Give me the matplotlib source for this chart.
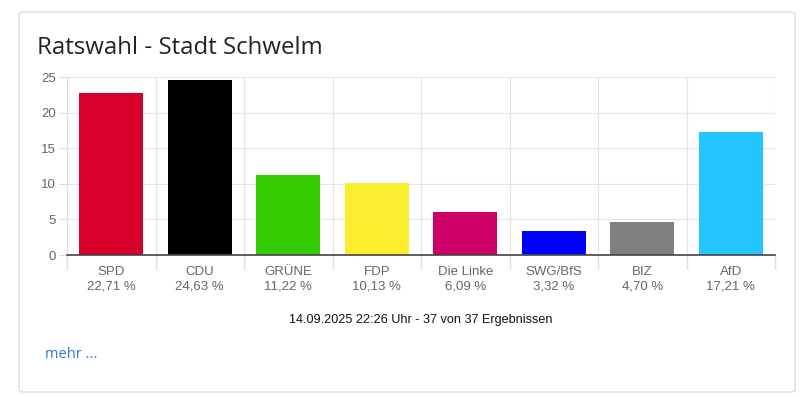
import matplotlib.pyplot as plt
from matplotlib.patches import FancyBboxPatch

parties = ["SPD", "CDU", "GRÜNE", "FDP", "Die Linke", "SWG/BfS", "BIZ", "AfD"]
shares = [22.71, 24.63, 11.22, 10.13, 6.09, 3.32, 4.70, 17.21]
colors = ["#d7002a", "#000000", "#33cc00", "#fcec2e", "#cc0066", "#0000ff", "#7f7f7f", "#22c5ff"]
yticks = [0, 5, 10, 15, 20, 25]

W, H = 800, 397
plt.rcParams["font.family"] = ["Liberation Sans", "DejaVu Sans"]
fig = plt.figure(figsize=(8, 3.97), dpi=100)
fig.patch.set_facecolor("white")

# card frame, behind the axes
card = FancyBboxPatch((19 / W, 1 - 392 / H), 776 / W, 380 / H,
                      boxstyle="round,pad=0,rounding_size=0.006",
                      transform=fig.transFigure, facecolor="white",
                      edgecolor="#dddddd", linewidth=1, zorder=-5)
fig.patches.append(card)

fig.text(37 / W, 1 - 48 / H, "Ratswahl - Stadt Schwelm", fontsize=17.3,
         color="#222222", va="center", ha="left", family="Open Sans")

ax = fig.add_axes([67 / W, 1 - 255 / H, 708 / W, 178 / H])
ax.patch.set_alpha(0)
n = len(parties)
pos = list(range(n))
ax.bar(pos, shares, width=0.72, color=colors, zorder=3)

ax.set_xlim(-0.5, n - 0.5)
ax.set_ylim(0, 25)
ax.set_yticks(yticks)
ax.set_yticklabels([str(v) for v in yticks])
ax.set_xticks(pos)
ax.set_xticklabels([f"{p}\n{s:.2f} %".replace(".", ",") for p, s in zip(parties, shares)])
ax.set_xticks([i - 0.5 for i in range(n + 1)], minor=True)

ax.tick_params(axis="x", which="major", length=0, pad=8, labelsize=9.5, labelcolor="#666666")
ax.tick_params(axis="x", which="minor", length=10, color="#dddddd", width=1)
ax.tick_params(axis="y", length=6, color="#dddddd", labelsize=9.5, labelcolor="#666666", pad=2)
for lbl in ax.get_xticklabels():
    lbl.set_linespacing(1.25)

ax.grid(True, axis="y", color="#e4e4e4", linewidth=0.8, zorder=0)
ax.grid(True, axis="x", which="minor", color="#e4e4e4", linewidth=0.8, zorder=0)
ax.grid(False, axis="x", which="major")

for side in ["top", "right"]:
    ax.spines[side].set_visible(False)
ax.spines["left"].set_color("#dddddd")
ax.spines["bottom"].set_color("#444444")
ax.spines["bottom"].set_linewidth(1.2)
ax.spines["bottom"].set_zorder(4)

fig.text(421 / W, 1 - 320 / H, "14.09.2025 22:26 Uhr - 37 von 37 Ergebnissen",
         fontsize=9.1, color="#111111", ha="center", va="center")
fig.text(45 / W, 1 - 355 / H, "mehr ...", fontsize=10.5, color="#2a7ae2",
         ha="left", va="center", family="Open Sans")

fig.savefig("out.png", dpi=100)
